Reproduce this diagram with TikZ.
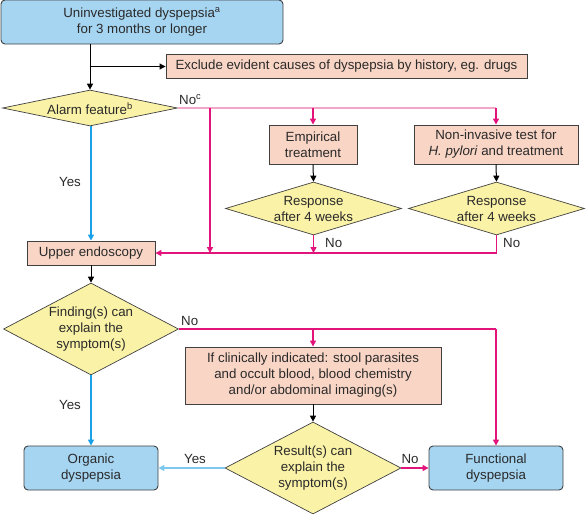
\documentclass[tikz,border=0pt]{standalone}
\usepackage{fontspec}
\setmainfont{Liberation Sans}
\usetikzlibrary{shapes.geometric,arrows.meta}
\definecolor{bluefill}{HTML}{A6D5F2}
\definecolor{salfill}{HTML}{F9D5C5}
\definecolor{yelfill}{HTML}{FAF2A6}
\definecolor{mag}{HTML}{E2147C}
\definecolor{lpink}{HTML}{F4A6C8}
\definecolor{bline}{HTML}{1AA0E6}
\definecolor{lbline}{HTML}{7CC8EE}
\definecolor{bord}{HTML}{404040}
\definecolor{txt}{HTML}{2A2A2A}
\begin{document}
\begin{tikzpicture}[x=1pt,y=-1pt,
  font=\fontsize{13.3}{16}\selectfont, text=txt,
  >={Triangle[length=6pt,width=6pt]},
  rbox/.style={draw=bord, line width=0.9pt, fill=bluefill, rounded corners=4pt, inner sep=0pt, align=center},
  sbox/.style={draw=bord, line width=0.9pt, fill=salfill, inner sep=0pt, align=center},
  dia/.style={draw=bord, line width=0.7pt, fill=yelfill, diamond, inner sep=0pt},
  dtext/.style={align=center, inner sep=0pt},
  blk/.style={draw=black, line width=1pt},
  magl/.style={draw=mag, line width=1.6pt},
  lpl/.style={draw=lpink, line width=1.6pt},
  bl/.style={draw=bline, line width=1.6pt},
  lbl/.style={draw=lbline, line width=1.6pt},
  lab/.style={inner sep=0pt}
]
\useasboundingbox (0,0) rectangle (587,514);

\node[rbox, minimum width=282pt, minimum height=44pt] (top) at (142,22) {Uninvestigated dyspepsia\textsuperscript{a}\\for 3 months or longer};
\node[sbox, minimum width=361pt, minimum height=24pt] (excl) at (346.5,66.5) {Exclude evident causes of dyspepsia by history, eg. drugs};
\node[dia, minimum width=175pt, minimum height=36pt] (alarm) at (90,108) {};
\node[dtext] (alarmT) at (90,109) {Alarm feature\textsuperscript{b}};
\node[sbox, minimum width=88pt, minimum height=39pt] (emp) at (313,144.5) {Empirical\\treatment};
\node[sbox, minimum width=164pt, minimum height=39pt] (noninv) at (496,144.5) {Non-invasive test for\\\textit{H. pylori} and treatment};
\node[dia, minimum width=176pt, minimum height=53pt] (resp1) at (313.5,208.5) {};
\node[dtext] (resp1T) at (313.5,208.5) {Response\\after 4 weeks};
\node[dia, minimum width=176pt, minimum height=53pt] (resp2) at (496.5,208.5) {};
\node[dtext] (resp2T) at (496.5,208.5) {Response\\after 4 weeks};
\node[sbox, minimum width=128pt, minimum height=24pt] (upper) at (91,253) {Upper endoscopy};
\node[dia, minimum width=175pt, minimum height=92pt] (finding) at (91,329) {};
\node[dtext] (findingT) at (91,329) {Finding(s) can\\explain the\\symptom(s)};
\node[sbox, minimum width=256pt, minimum height=57pt] (clin) at (313,375.5) {If clinically indicated: stool parasites\\and occult blood, blood chemistry\\and/or abdominal imaging(s)};
\node[dia, minimum width=176pt, minimum height=92pt] (result) at (313,468) {};
\node[dtext] (resultT) at (313,468) {Result(s) can\\explain the\\symptom(s)};
\node[rbox, minimum width=134pt, minimum height=44pt] (organic) at (91,468) {Organic\\dyspepsia};
\node[rbox, minimum width=134pt, minimum height=44pt] (functional) at (496,468) {Functional\\dyspepsia};

% top flow
\draw[blk,->] (top.south -| alarm.north) -- (alarm.north);
\draw[blk,->] (alarm.north |- excl.west) -- (excl.west);
% alarm no
\draw[lpl] (alarm.east) -- (alarm.east -| noninv.north);
\draw[magl,->] (alarm.east -| noninv.north) -- (noninv.north);
\draw[magl,->] (alarm.east -| emp.north) -- (emp.north);
\coordinate (v1) at (210,108);
\draw[magl,->] (v1) -- (v1 |- upper.east);
\node[lab, anchor=south west] (noc) at (179,105) {No\textsuperscript{c}};
% treatments
\draw[blk,->] (emp.south) -- (resp1.north);
\draw[blk,->] (noninv.south) -- (resp2.north);
\draw[magl,->] (resp1.south) -- (resp1.south |- upper.east);
\draw[magl,->] (resp2.south) |- (upper.east);
\node[lab, anchor=west] (no1) at (325,243) {No};
\node[lab, anchor=west] (no2) at (503,243) {No};
% alarm yes
\draw[bl,->] (alarm.south) -- (alarm.south -| upper.north) -- (upper.north);
\node[lab] (yes1) at (70,182) {Yes};
% endoscopy
\draw[blk,->] (upper.south) -- (finding.north);
\draw[magl] (finding.east) -- (finding.east -| functional.north);
\draw[magl,->] (finding.east -| functional.north) -- (functional.north);
\draw[magl,->] (finding.east -| clin.north) -- (clin.north);
\node[lab, anchor=south west] (no3) at (181,326) {No};
\draw[bl,->] (finding.south) -- (organic.north);
\node[lab] (yes2) at (70,405) {Yes};
% clinical
\draw[blk,->] (clin.south) -- (result.north);
\draw[lbl,->] (result.west) -- (organic.east);
\node[lab, anchor=south] (yes3) at (195,464) {Yes};
\draw[magl,->] (result.east) -- (functional.west);
\node[lab, anchor=south] (no4) at (410,464) {No};
\end{tikzpicture}
\end{document}
